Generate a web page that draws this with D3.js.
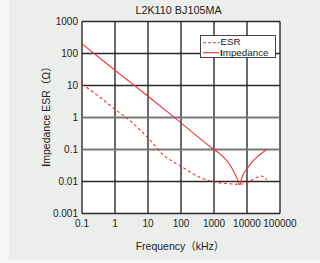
<!DOCTYPE html>
<html>
<head>
<meta charset="utf-8">
<script src="https://cdn.jsdelivr.net/npm/d3@7"></script>
<style>
  body { margin: 0; background: #f6f6f6; }
  svg text { font-family: "Liberation Sans", Arial, "Noto Sans CJK JP", sans-serif; fill: #222; }
</style>
</head>
<body>
<div id="chart"></div>
<script>
// values
const xTicks = [0.1, 1, 10, 100, 1000, 10000, 100000];
const yTicks = [0.001, 0.01, 0.1, 1, 10, 100, 1000];

const impFreq = [0.1, 1, 10, 100, 1000, 1500, 2000, 3000, 4000, 5000, 6000, 7000, 8000, 10000, 15000, 20000, 40000];
const impVal  = [200, 30, 4.6, 0.68, 0.1, 0.074, 0.056, 0.034, 0.02, 0.0125, 0.008, 0.013, 0.018, 0.025, 0.043, 0.058, 0.1];

const esrFreq = [0.1, 0.35, 1, 3, 10, 30, 100, 370, 1000, 3000, 6000, 10000, 15000, 27000, 40000];
const esrVal  = [11, 4.3, 1.8, 0.76, 0.23, 0.066, 0.03, 0.0135, 0.0098, 0.0085, 0.0082, 0.0092, 0.0115, 0.0148, 0.0115];

const W = 320, H = 263;
const red = '#e8352f';

const svg = d3.select('#chart').append('svg')
    .attr('width', W)
    .attr('height', H);

// grey panel
svg.append('rect')
    .attr('x', 9).attr('y', 0)
    .attr('width', W - 9).attr('height', 260)
    .attr('fill', '#eceeec');

const x = d3.scaleLog().domain([0.1, 100000]).range([82, 280]);
const y = d3.scaleLog().domain([0.001, 1000]).range([213.5, 21.5]);

// plot area
svg.append('rect')
    .attr('x', x.range()[0]).attr('y', y.range()[1])
    .attr('width', x.range()[1] - x.range()[0])
    .attr('height', y.range()[0] - y.range()[1])
    .attr('fill', '#fff');

// grid
const grid = svg.append('g').attr('stroke', '#2a2a2a').attr('stroke-width', 1.4);
grid.selectAll('line.v')
    .data(xTicks)
    .enter().append('line')
    .attr('class', 'v')
    .attr('x1', d => x(d)).attr('x2', d => x(d))
    .attr('y1', y.range()[0]).attr('y2', y.range()[1]);
grid.selectAll('line.h')
    .data(yTicks)
    .enter().append('line')
    .attr('class', 'h')
    .attr('y1', d => y(d)).attr('y2', d => y(d))
    .attr('x1', x.range()[0]).attr('x2', x.range()[1])
    .attr('stroke', d => (d === 1 || d === 0.1) ? '#777' : null)
    .attr('stroke-width', d => (d === 1 || d === 0.1) ? 2 : null);

// tick labels
svg.append('g').selectAll('text')
    .data(yTicks)
    .enter().append('text')
    .attr('x', 78)
    .attr('y', d => y(d))
    .attr('dy', '0.33em')
    .attr('text-anchor', 'end')
    .attr('font-size', 10)
    .text(d => String(d));

svg.append('g').selectAll('text')
    .data(xTicks)
    .enter().append('text')
    .attr('x', d => x(d))
    .attr('y', 227)
    .attr('text-anchor', 'middle')
    .attr('font-size', 10)
    .text(d => String(d));

// curves
const line = d3.line()
    .x(d => x(d[0]))
    .y(d => y(d[1]))
    .curve(d3.curveMonotoneX);

svg.append('path')
    .datum(d3.zip(esrFreq, esrVal))
    .attr('d', line)
    .attr('fill', 'none')
    .attr('stroke', red)
    .attr('stroke-width', 1.1)
    .attr('stroke-dasharray', '3,2.5');

svg.append('path')
    .datum(d3.zip(impFreq, impVal))
    .attr('d', line)
    .attr('fill', 'none')
    .attr('stroke', red)
    .attr('stroke-width', 1.1);

// title
svg.append('text')
    .attr('x', 178.5).attr('y', 14)
    .attr('text-anchor', 'middle')
    .attr('font-size', 10.8)
    .text('L2K110 BJ105MA');

// axis titles
svg.append('text')
    .attr('x', 180).attr('y', 250)
    .attr('text-anchor', 'middle')
    .attr('font-size', 10.5)
    .text('Frequency（kHz）');

const yl = svg.append('text')
    .attr('transform', 'translate(49.5,114) rotate(-90)')
    .attr('text-anchor', 'middle')
    .attr('font-size', 10.5);
yl.append('tspan').attr('font-weight', 'bold').text('I');
yl.append('tspan').text('mpedance ESR（Ω）');

// legend
const lg = svg.append('g');
lg.append('rect')
    .attr('x', 200.5).attr('y', 35.5)
    .attr('width', 75).attr('height', 22)
    .attr('fill', '#fff')
    .attr('stroke', '#444')
    .attr('stroke-width', 1);
lg.append('line')
    .attr('x1', 203).attr('x2', 220).attr('y1', 42.7).attr('y2', 42.7)
    .attr('stroke', red).attr('stroke-width', 1.1).attr('stroke-dasharray', '3,2');
lg.append('line')
    .attr('x1', 203).attr('x2', 219).attr('y1', 52.7).attr('y2', 52.7)
    .attr('stroke', red).attr('stroke-width', 1.1);
lg.append('text')
    .attr('x', 220.5).attr('y', 45.3)
    .attr('font-size', 9.8)
    .text('ESR');
const li = lg.append('text')
    .attr('x', 220).attr('y', 56)
    .attr('font-size', 9.8);
li.append('tspan').attr('font-weight', 'bold').text('I');
li.append('tspan').text('mpedance');
</script>
</body>
</html>
